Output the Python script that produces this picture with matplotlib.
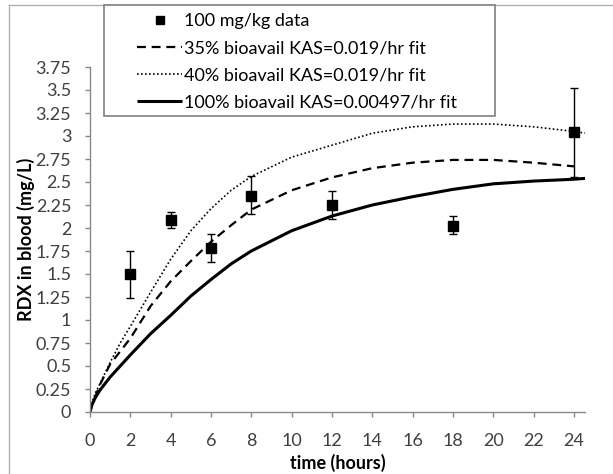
"""RDX blood concentration: data with three PK model fits."""

import matplotlib.pyplot as plt
from matplotlib.lines import Line2D
from matplotlib.patches import Rectangle

plt.rcParams['font.family'] = ['Lato', 'DejaVu Sans']

# measured data (100 mg/kg), mean and error bar ends
data_t = [2, 4, 6, 8, 12, 18, 24]
data_mean = [1.50, 2.09, 1.78, 2.35, 2.25, 2.02, 3.04]
data_lo = [1.24, 2.00, 1.63, 2.15, 2.10, 1.93, 2.55]
data_hi = [1.75, 2.17, 1.93, 2.57, 2.40, 2.13, 3.52]

# model fits
fit_t = [0, 0.1, 0.25, 0.5, 1, 1.5, 2, 3, 4, 5, 6, 7, 8, 10, 12, 14, 16, 18, 20, 22, 24, 24.6]
fit_35 = [0, 0.09, 0.16, 0.30, 0.52, 0.66, 0.80, 1.15, 1.42, 1.64, 1.85, 2.03, 2.20,
          2.41, 2.55, 2.65, 2.71, 2.74, 2.74, 2.71, 2.67]
fit_40 = [0, 0.10, 0.20, 0.31, 0.54, 0.75, 0.93, 1.30, 1.66, 1.97, 2.21, 2.41, 2.56,
          2.77, 2.90, 3.03, 3.10, 3.13, 3.13, 3.10, 3.05, 3.03]
fit_100 = [0, 0.08, 0.15, 0.24, 0.38, 0.50, 0.62, 0.85, 1.05, 1.26, 1.44, 1.61, 1.75,
           1.97, 2.13, 2.25, 2.34, 2.42, 2.48, 2.51, 2.53, 2.54]

labels = [
    "100 mg/kg data",
    "35% bioavail KAS=0.019/hr fit",
    "40% bioavail KAS=0.019/hr fit",
    "100% bioavail KAS=0.00497/hr fit",
]

W, H = 613, 474
GRAY = "#898989"
TXT = "#404040"
FS = 13


def main():
    fig = plt.figure(figsize=(W / 100, H / 100), dpi=100)
    ax = fig.add_axes([90 / W, 1 - 412 / H, (585 - 90) / W, (412 - 67) / H])

    dashed, = ax.plot(fit_t[:len(fit_35)], fit_35, color="black", lw=1.6,
                      dashes=(4, 2.6))
    dotted, = ax.plot(fit_t, fit_40, color="black", lw=1.2, dashes=(1, 1.4))
    solid, = ax.plot(fit_t, fit_100, color="black", lw=2.2, solid_capstyle="butt")

    err = [[m - lo for m, lo in zip(data_mean, data_lo)],
           [hi - m for m, hi in zip(data_mean, data_hi)]]
    ax.errorbar(data_t, data_mean, yerr=err, fmt="none", ecolor="black",
                elinewidth=1.0, capsize=3, capthick=1.0, zorder=4)
    pts, = ax.plot(data_t, data_mean, "s", color="black", ms=7, zorder=5)

    ax.set_xlim(0, 24.55)
    ax.set_ylim(0, 3.75)
    ax.set_xticks(range(0, 25, 2))
    ax.set_yticks([i * 0.25 for i in range(16)])
    ax.set_yticklabels([f"{i * 0.25:g}" for i in range(16)])

    for side in ("top", "right"):
        ax.spines[side].set_visible(False)
    for side in ("left", "bottom"):
        ax.spines[side].set_color(GRAY)
        ax.spines[side].set_linewidth(1.0)
    ax.tick_params(direction="out", length=3.5, width=1.0, color=GRAY,
                   labelcolor=TXT, labelsize=FS)
    ax.tick_params(axis="x", pad=11.5)
    ax.tick_params(axis="y", pad=10)

    ax.set_ylabel("RDX in blood (mg/L)", fontsize=FS, fontweight="bold",
                  color="black")
    ax.yaxis.set_label_coords(-0.112, 0.5)
    ax.set_xlabel("time (hours)", fontsize=FS, fontweight="bold",
                  color="black", labelpad=4)

    # outer chart frame (left and top edges visible)
    fig.add_artist(Line2D([9 / W, 9 / W], [0, 1 - 5 / H], transform=fig.transFigure,
                          color="#b0b0b0", lw=1.0))
    fig.add_artist(Line2D([9 / W, 1], [1 - 5 / H, 1 - 5 / H], transform=fig.transFigure,
                          color="#b0b0b0", lw=1.0))

    # legend box
    fig.add_artist(Rectangle((104 / W, 1 - 116 / H), (495 - 104) / W, (116 - 5) / H,
                             transform=fig.transFigure, fill=True, facecolor="white",
                             edgecolor="#7f7f7f", lw=1.2, zorder=10))
    leg = fig.legend([pts, dashed, dotted, solid], labels, loc="upper left",
                     bbox_to_anchor=(137 / W, 1 - 13 / H), bbox_transform=fig.transFigure,
                     frameon=False, fontsize=FS, borderpad=0, borderaxespad=0,
                     handlelength=2.5, handletextpad=0.12, labelspacing=0.62,
                     markerscale=0.9)
    leg.set_zorder(11)

    fig.savefig("out.png", dpi=100)


if __name__ == "__main__":
    main()
